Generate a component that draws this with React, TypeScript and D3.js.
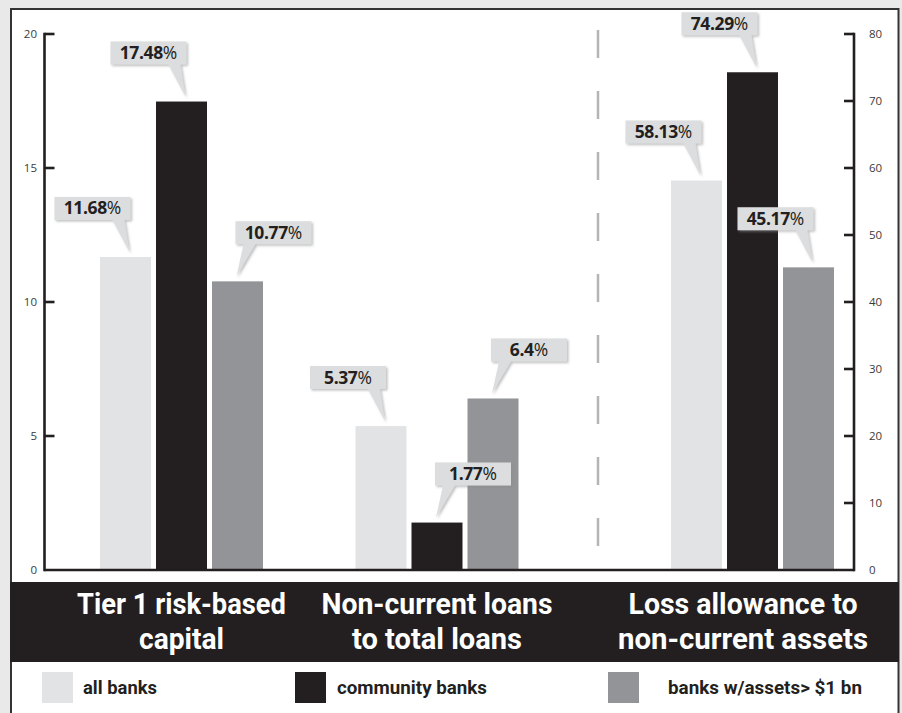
import React from "react";
import * as d3 from "d3";

// ---------- data ----------
const categories = [
  "Tier 1 risk-based capital",
  "Non-current loans to total loans",
  "Loss allowance to non-current assets",
];
const categoryLines = [
  ["Tier 1 risk-based", "capital"],
  ["Non-current loans", "to total loans"],
  ["Loss allowance to", "non-current assets"],
];
const seriesNames = ["all banks", "community banks", "banks w/assets> $1 bn"];
const allBanks = [11.68, 5.37, 58.13];
const communityBanks = [17.48, 1.77, 74.29];
const largeBanks = [10.77, 6.4, 45.17];
const seriesValues = [allBanks, communityBanks, largeBanks];
const leftTicks = [0, 5, 10, 15, 20];
const rightTicks = [0, 10, 20, 30, 40, 50, 60, 70, 80];
// which side the callout box sits on relative to its pointer, per [series][category]
const calloutSide = [
  ["L", "L", "L"],
  ["L", "R", "L"],
  ["R", "R", "L"],
];

// ---------- layout / style ----------
const W = 902;
const H = 713;
const colors = ["#e2e3e4", "#231f20", "#929497"];
const ink = "#231f20";
const plotTop = 34;
const plotBottom = 570;
const axisLeftX = 44.5;
const axisRightX = 854;
const dividerX = 598;
const labelWidths = [
  [209, 85],
  [231, 170],
  [229, 250],
];
const legendSquareX = [42, 295, 608];
const legendTextX = [83, 337, 668];
const legendTextW = [74, 150, 194];
const boxW = 76;
const boxH = 23;

export default function App() {
  const yLeft = d3.scaleLinear().domain([0, 20]).range([plotBottom, plotTop]);
  const yRight = d3.scaleLinear().domain([0, 80]).range([plotBottom, plotTop]);

  // group centres: left panel holds first two categories, right panel the third
  const leftGroups = d3
    .scalePoint<string>()
    .domain(categories.slice(0, 2))
    .range([181.5, 437]);
  const groupCenter = (i: number) =>
    i < 2 ? (leftGroups(categories[i]) as number) : 752.5;
  const labelCenter = (i: number) => (i < 2 ? groupCenter(i) : 743);

  const inner = d3
    .scaleBand<string>()
    .domain(seriesNames)
    .range([-81.5, 81.5])
    .paddingInner(5 / 56)
    .paddingOuter(0);

  const yFor = (ci: number) => (ci < 2 ? yLeft : yRight);

  const bars: any[] = [];
  const callouts: any[] = [];
  seriesNames.forEach((s, si) => {
    categories.forEach((c, ci) => {
      const v = seriesValues[si][ci];
      const y = yFor(ci);
      const x = groupCenter(ci) + (inner(s) as number);
      const bw = inner.bandwidth();
      bars.push(
        <rect
          key={`b-${si}-${ci}`}
          x={x}
          y={y(v)}
          width={bw}
          height={plotBottom - y(v)}
          fill={colors[si]}
        />
      );
      const side = calloutSide[si][ci];
      const cx = x + bw / 2;
      const tipX = side === "L" ? cx + 4 : cx - 1;
      const tipY = y(v) - 5;
      let x0: number, x1: number, path: string;
      const y1 = tipY - 32;
      const y0 = y1 - boxH;
      if (side === "L") {
        x1 = tipX + 1;
        x0 = x1 - boxW;
        path = `M${x0},${y0}H${x1}V${y1}H${x1 - 6}L${tipX},${tipY}L${x1 - 18},${y1}H${x0}Z`;
      } else {
        x0 = tipX - 1;
        x1 = x0 + boxW;
        path = `M${x0},${y0}H${x1}V${y1}H${x0 + 20}L${tipX},${tipY}L${x0 + 8},${y1}H${x0}Z`;
      }
      callouts.push(
        <g key={`c-${si}-${ci}`}>
          <path d={path} fill="#dcddde" filter="url(#shadow)" />
          <text
            x={(x0 + x1) / 2}
            y={y0 + 17.5}
            textAnchor="middle"
            fontFamily="'Open Sans', sans-serif"
            fontSize={17.5}
            fill={ink}
            letterSpacing={-0.4}
          >
            <tspan fontWeight={700}>{String(v)}</tspan>
            <tspan fontWeight={400} letterSpacing={0}>%</tspan>
          </text>
        </g>
      );
    });
  });

  return (
    <svg
      width={W}
      height={H}
      style={{ position: "absolute", left: 0, top: 0, display: "block" }}
    >
      <defs>
        <filter id="shadow" x="-20%" y="-20%" width="140%" height="150%">
          <feDropShadow dx="1.5" dy="1.5" stdDeviation="1.2" floodColor="#8a8a8a" floodOpacity="0.55" />
        </filter>
      </defs>
      <rect x={0} y={0} width={W} height={H} fill="#e9e9e9" />
      <rect x={11} y={9} width={887.5} height={H + 20} fill="#ffffff" stroke="#333" strokeWidth={2} />

      {/* divider */}
      <line
        x1={dividerX}
        x2={dividerX}
        y1={30}
        y2={547}
        stroke="#b5b5b5"
        strokeWidth={2.5}
        strokeDasharray="28 33"
      />

      {bars}

      {/* axes */}
      <g stroke={ink} strokeWidth={2.6} fill="none">
        <line x1={axisLeftX} x2={axisLeftX} y1={plotTop - 1.3} y2={plotBottom + 1.3} />
        <line x1={axisRightX} x2={axisRightX} y1={plotTop - 1.3} y2={plotBottom + 1.3} />
        <line x1={axisLeftX} x2={axisRightX} y1={plotBottom} y2={plotBottom} />
        {leftTicks.slice(1).map((t) => (
          <line key={`lt${t}`} x1={axisLeftX} x2={axisLeftX + 10} y1={yLeft(t)} y2={yLeft(t)} />
        ))}
        {rightTicks.slice(1).map((t) => (
          <line key={`rt${t}`} x1={axisRightX - 10} x2={axisRightX} y1={yRight(t)} y2={yRight(t)} />
        ))}
      </g>
      <g fontFamily="'Open Sans', sans-serif" fontSize={11.5} fill="#3a3a3a">
        {leftTicks.map((t) => (
          <text key={`ll${t}`} x={37} y={yLeft(t)} dy="0.36em" textAnchor="end">
            {t}
          </text>
        ))}
        {rightTicks.map((t) => (
          <text key={`rl${t}`} x={869} y={yRight(t)} dy="0.36em" textAnchor="start">
            {t}
          </text>
        ))}
      </g>

      {callouts}

      {/* category band */}
      <rect x={10} y={582} width={889} height={80} fill={ink} />
      <g fontFamily="Roboto, sans-serif" fontWeight={700} fontSize={29.5} fill="#ffffff">
        {categoryLines.map((lines, ci) =>
          lines.map((ln, li) => (
            <text
              key={`cl-${ci}-${li}`}
              x={labelCenter(ci)}
              y={614 + li * 35}
              textAnchor="middle"
              textLength={labelWidths[ci][li]}
              lengthAdjust="spacingAndGlyphs"
            >
              {ln}
            </text>
          ))
        )}
      </g>

      {/* legend */}
      {seriesNames.map((s, si) => (
        <g key={`lg${si}`}>
          <rect x={legendSquareX[si]} y={672} width={31} height={31} fill={colors[si]} />
          <text
            x={legendTextX[si]}
            y={694}
            fontFamily="Roboto, sans-serif"
            fontWeight={700}
            fontSize={17.5}
            fill={ink}
            textLength={legendTextW[si]}
            lengthAdjust="spacingAndGlyphs"
          >
            {s}
          </text>
        </g>
      ))}
    </svg>
  );
}
